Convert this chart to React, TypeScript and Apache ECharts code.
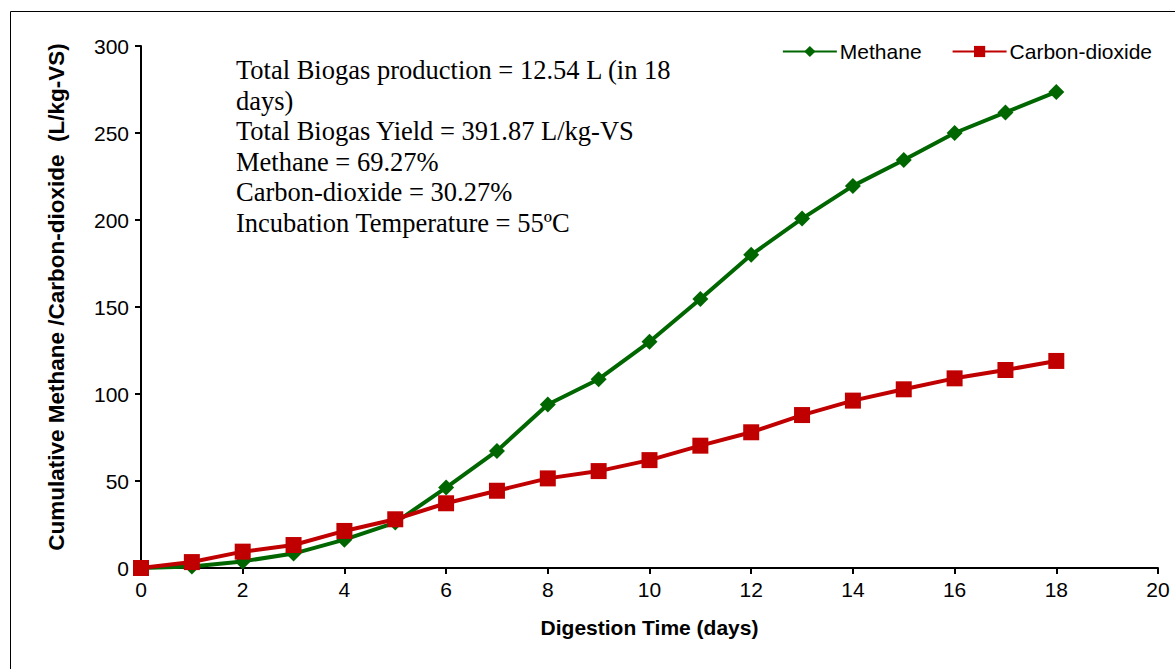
import React, { useEffect, useRef } from "react";
import * as echarts from "echarts";

const days = [0, 1, 2, 3, 4, 5, 6, 7, 8, 9, 10, 11, 12, 13, 14, 15, 16, 17, 18];
const methane = [0, 0.8, 3.8, 8.3, 16.3, 26.1, 46.2, 67.3, 94, 108.5, 130, 154.6, 180, 200.8, 219.6, 234.5, 250, 261.8, 273.6];
const carbonDioxide = [0, 3.4, 9.4, 13.2, 21.3, 28, 37.2, 44.4, 51.5, 55.7, 62, 70.3, 78, 87.9, 96.2, 102.7, 109, 113.8, 119];
const infoLines = [
  "Total Biogas production = 12.54 L (in 18",
  "days)",
  "Total Biogas Yield = 391.87 L/kg-VS",
  "Methane = 69.27%",
  "Carbon-dioxide = 30.27%",
  "Incubation Temperature = 55ºC",
];

export default function App() {
  const ref = useRef<HTMLDivElement>(null);
  useEffect(() => {
    const chart = echarts.init(ref.current!, null, { renderer: "svg" });
    const sans = "'Liberation Sans', Arial, sans-serif";
    const axisText = { color: "#000", fontFamily: sans, fontSize: 21 };
    chart.setOption({
      animation: false,
      backgroundColor: "#fff",
      grid: { left: 141, top: 46, right: 17, bottom: 101, containLabel: false },
      legend: {
        top: 36,
        right: 18,
        itemWidth: 54,
        itemHeight: 14,
        itemGap: 30,
        textStyle: { color: "#000", fontFamily: sans, fontSize: 21, padding: [0, 0, 0, -2] },
        data: ["Methane", "Carbon-dioxide"],
      },
      xAxis: {
        type: "value",
        min: 0,
        max: 20,
        interval: 2,
        name: "Digestion Time (days)",
        nameLocation: "middle",
        nameGap: 49,
        nameTextStyle: { color: "#000", fontFamily: sans, fontSize: 21, fontWeight: "bold" },
        axisLine: { show: true, lineStyle: { color: "#000", width: 2 } },
        axisTick: { show: true, length: 6, lineStyle: { color: "#000", width: 2 } },
        axisLabel: { ...axisText, margin: 11 },
        splitLine: { show: false },
      },
      yAxis: {
        type: "value",
        min: 0,
        max: 300,
        interval: 50,
        name: "Cumulative Methane /Carbon-dioxide  (L/kg-VS)",
        nameLocation: "middle",
        nameRotate: 90,
        nameGap: 73,
        nameTextStyle: { color: "#000", fontFamily: sans, fontSize: 22.5, fontWeight: "bold", padding: [0, 0, 0, 20] },
        axisLine: { show: true, lineStyle: { color: "#000", width: 2 } },
        axisTick: { show: true, length: 6, lineStyle: { color: "#000", width: 2 } },
        axisLabel: { ...axisText, margin: 12 },
        splitLine: { show: false },
      },
      series: [
        {
          name: "Methane",
          type: "line",
          data: days.map((d, i) => [d, methane[i]]),
          symbol: "diamond",
          symbolSize: 16,
          lineStyle: { color: "#006600", width: 4 },
          itemStyle: { color: "#006600" },
          z: 2,
        },
        {
          name: "Carbon-dioxide",
          type: "line",
          data: days.map((d, i) => [d, carbonDioxide[i]]),
          symbol: "rect",
          symbolSize: 16,
          lineStyle: { color: "#c00000", width: 4 },
          itemStyle: { color: "#c00000" },
          z: 3,
        },
      ],
      graphic: [
        {
          type: "rect",
          shape: { x: 10.5, y: 11.5, width: 1300, height: 800 },
          style: { fill: "none", stroke: "#000", lineWidth: 1 },
          silent: true,
        },
        {
          type: "text",
          left: 236,
          top: 55,
          style: {
            text: infoLines.join("\n"),
            fill: "#000",
            font: "26.5px 'Liberation Serif', 'Times New Roman', serif",
            lineHeight: 30.5,
          },
        },
      ],
    });
    return () => chart.dispose();
  }, []);
  return (
    <div
      ref={ref}
      style={{ position: "absolute", left: 0, top: 0, width: 1175, height: 669 }}
    />
  );
}
